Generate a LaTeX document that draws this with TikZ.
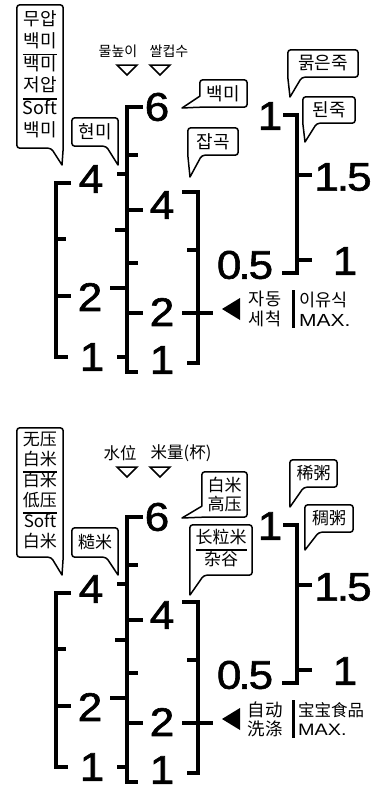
\documentclass[tikz,border=0pt]{standalone}
\usepackage{fontspec}
\setmainfont{Liberation Sans}
\newfontfamily\kofont{Noto Sans CJK KR}
\newfontfamily\zhfont{Noto Sans CJK SC}
\newfontfamily\numfont[FakeStretch=1.1, FakeBold=1.5]{Liberation Sans}
\newfontfamily\maxfont[FakeStretch=1.2]{Liberation Sans}
\usetikzlibrary{calc}
\setlength{\arrayrulewidth}{1.5pt}

% speech bubble round box #1, tail hanging down from its right corner to #2
\newcommand{\tailright}[2]{%
  \draw[bub] (#1.south east) [rounded corners=3pt] -- (#1.north east) -- (#1.north west)
    -- (#1.south west) -- ($(#1.south east)+(-12,0)$) [sharp corners] -- #2 -- cycle;}
% tail hanging down from the left corner
\newcommand{\tailleft}[2]{%
  \draw[bub] (#1.south west) [rounded corners=3pt] -- (#1.north west) -- (#1.north east)
    -- (#1.south east) -- ($(#1.south west)+(14,0)$) [sharp corners] -- #2 -- cycle;}
% tail pointing out to the left along the bottom edge
\newcommand{\tailside}[2]{%
  \draw[bub] ($(#1.south west)+(0,-11)$) [rounded corners=3pt] -- (#1.north west)
    -- (#1.north east) -- (#1.south east) -- (#1.south west) [sharp corners] -- #2 -- cycle;}

% the scales on the inner pot, same for both panels
\newcommand{\cupscales}{%
  % water level bracket
  \draw[ruler] (71,183) -- (56,183) -- (56,357) -- (68,357);
  \draw[ruler] (56,239) -- (66,239) (56,296) -- (71,296);
  \node[digit] (w4) at (91,179) {4};
  \node[digit] (w2) at (90,297) {2};
  \node[digit] (w1) at (92,357) {1};
  % cup scale
  \draw[ruler] (143,107) -- (127,107) -- (127,372) -- (138,372);
  \foreach \y/\l in {174/10, 230/12, 288/17, 357/10}
    \draw[ruler] (127,\y) -- ++(-\l,0);
  \foreach \y/\l in {155/11, 210/16, 263/11, 313/16}
    \draw[ruler] (127,\y) -- ++(\l,0);
  \node[digit] (c6) at (157,107) {6};
  \node[digit] (c4) at (162,205) {4};
  \node[digit] (c2) at (162,312) {2};
  \node[digit] (c1) at (162,360) {1};
  % quick bracket
  \draw[ruler] (182,192) -- (198,192) -- (198,363) -- (187,363);
  \draw[ruler] (187,250) -- (198,250) (182,313) -- (213,313);
  % porridge bracket
  \draw[ruler] (283,115) -- (297,115) -- (297,273) -- (282,273);
  \draw[ruler] (297,175) -- (312,175) (297,260) -- (312,260);
  \node[digit] (p1) at (270,116) {1};
  \node[digit] (p15) at (343,177) {1\kern-2pt.\kern-2pt5};
  \node[digit] (p05) at (245,265) {0\kern-3pt.\kern-2pt5};
  \node[digit] (p1r) at (345,261) {1};
  % auto wash mark
  \fill (222,309) -- (240,298) -- (240,320) -- cycle;
  \draw[line width=3pt] (293,290) -- (293,328);
}

\begin{document}
\begin{tikzpicture}[x=1pt, y=-1pt,
    ruler/.style={line width=3.8pt},
    digit/.style={font=\numfont\fontsize{40}{40}\selectfont, inner sep=0pt},
    bub/.style={line width=1.5pt, line join=round},
    hollowtri/.style={line width=1.5pt, line join=miter},
    kotext/.style={font=\kofont\fontsize{18}{21.5}\selectfont, inner sep=0pt, align=center},
    kohead/.style={font=\kofont\fontsize{14}{16}\selectfont, inner sep=0pt},
    zhtext/.style={font=\zhfont\fontsize{17}{18.5}\selectfont, inner sep=0pt, align=center},
    zhhead/.style={font=\zhfont\fontsize{16.5}{19}\selectfont, inner sep=0pt}
  ]
  \useasboundingbox (0,0) rectangle (384,790);

  % --- Korean panel ---
  \begin{scope}[name prefix=ko-]
    \node[kohead] (waterhd) at (118,51) {물높이};
    \node[kohead] (cuphd) at (169,51) {쌀컵수};
    \draw[hollowtri] (117,65) -- (137,65) -- (127,75) -- cycle;
    \draw[hollowtri] (150,65) -- (170,65) -- (160,75) -- cycle;
    \cupscales
    \node[kotext, minimum width=46pt, minimum height=143pt] (menu) at (40,76.5)
      {\begin{tabular}{@{}c@{}}무압\\백미\\\hline 백미\\저압\\\hline Soft\\백미\end{tabular}};
    \tailright{menu}{(62,165)}
    \node[kotext, minimum width=46pt, minimum height=28pt] (brown) at (95,132) {현미};
    \tailright{brown}{(118,165)}
    \node[kotext, minimum width=47pt, minimum height=27pt] (white) at (223.5,93.5) {백미};
    \tailside{white}{(182,108)}
    \node[kotext, minimum width=50pt, minimum height=27pt] (grain) at (213,141.5) {잡곡};
    \tailleft{grain}{(190,177)}
    \node[kotext, minimum width=70pt, minimum height=27pt] (thin) at (323,63.5) {묽은죽};
    \tailleft{thin}{(290,97)}
    \node[kotext, minimum width=52pt, minimum height=26pt] (thick) at (329,110) {된죽};
    \tailleft{thick}{(305,142)}
    \node[kotext, font=\kofont\fontsize{17.5}{20}\selectfont] (wash) at (265,309) {자동\\세척};
    \node[kotext, font=\kofont\fontsize{17.5}{20}\selectfont, align=left, anchor=west]
      (baby) at (299,309) {이유식\\{\maxfont MAX.}};
  \end{scope}

  % --- Chinese panel ---
  \begin{scope}[name prefix=zh-, shift={(0,410)}]
    \node[zhhead] (waterhd) at (120,43) {水位};
    \node[zhhead] (cuphd) at (181,43) {米量(杯)};
    \draw[hollowtri] (117,57) -- (137,57) -- (127,67) -- cycle;
    \draw[hollowtri] (150,57) -- (170,57) -- (160,67) -- cycle;
    \cupscales
    \node[zhtext, minimum width=46pt, minimum height=129pt] (menu) at (40,82.5)
      {\begin{tabular}{@{}c@{}}无压\\白米\\\hline 白米\\低压\\\hline Soft\\白米\end{tabular}};
    \tailright{menu}{(62,165)}
    \node[zhtext, minimum width=46pt, minimum height=29pt] (brown) at (95,132.5) {糙米};
    \tailright{brown}{(118,165)}
    \node[zhtext, minimum width=45pt, minimum height=45pt] (white) at (224.5,84.5) {白米\\高压};
    \tailside{white}{(182,108)}
    \node[zhtext, minimum width=62pt, minimum height=50pt] (grain) at (221,140)
      {\begin{tabular}{@{}c@{}}长粒米\\\hline 杂谷\end{tabular}};
    \tailleft{grain}{(190,185)}
    \node[zhtext, minimum width=47pt, minimum height=27pt] (thin) at (313.5,63.5) {稀粥};
    \tailleft{thin}{(290,97)}
    \node[zhtext, minimum width=48pt, minimum height=27pt] (thick) at (329,108.5) {稠粥};
    \tailleft{thick}{(305,140)}
    \node[zhtext, font=\zhfont\fontsize{17.5}{19}\selectfont] (wash) at (265,309) {自动\\洗涤};
    \node[zhtext, font=\zhfont\fontsize{16.5}{19}\selectfont, align=left, anchor=west]
      (baby) at (298,309) {宝宝食品\\{\maxfont MAX.}};
  \end{scope}
\end{tikzpicture}
\end{document}
